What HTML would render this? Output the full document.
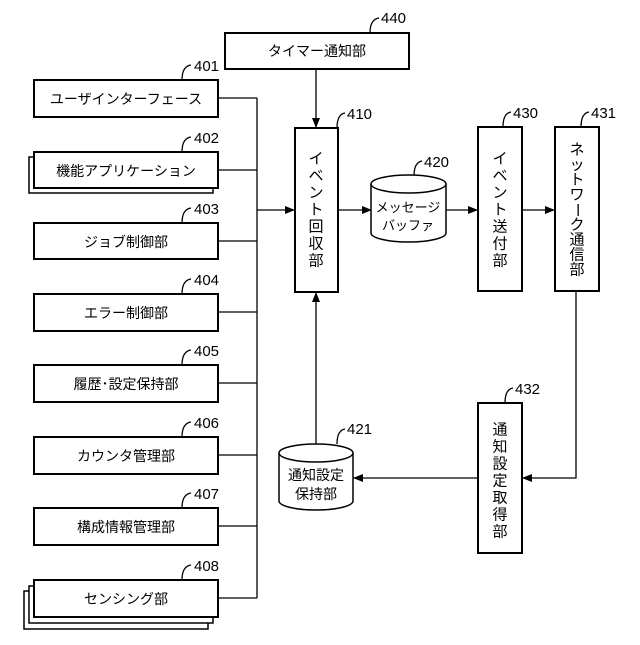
<!DOCTYPE html>
<html><head><meta charset="utf-8"><style>
html,body{margin:0;padding:0;background:#fff}
text{font-family:"Liberation Sans","Noto Sans CJK JP",sans-serif;fill:#000}
</style></head><body>
<svg width="640" height="640" viewBox="0 0 640 640" xmlns="http://www.w3.org/2000/svg">
<defs><marker id="a" markerWidth="10" markerHeight="10" refX="9" refY="5" orient="auto" markerUnits="userSpaceOnUse"><path d="M0,1 L10,5 L0,9 Z" fill="#000"/></marker></defs>
<g fill="#fff" stroke="#000" stroke-width="2">
<rect x="225" y="33" width="184" height="36"/>
<rect x="34" y="80" width="184" height="37"/>
<rect x="29" y="157" width="184" height="36" stroke-width="1.5"/>
<rect x="34" y="152" width="184" height="36"/>
<rect x="34" y="223" width="184" height="36"/>
<rect x="34" y="294" width="184" height="37"/>
<rect x="34" y="365" width="184" height="37"/>
<rect x="34" y="437" width="184" height="37"/>
<rect x="34" y="508" width="184" height="37"/>
<rect x="24" y="591" width="184" height="38" stroke-width="1.5"/>
<rect x="29" y="586" width="184" height="37" stroke-width="1.5"/>
<rect x="34" y="580" width="184" height="37"/>
<rect x="295" y="128" width="43" height="164"/>
<rect x="478" y="127" width="44" height="164"/>
<rect x="555" y="127" width="44" height="164"/>
<rect x="478" y="403" width="44" height="150"/>
</g>
<g fill="none" stroke="#000" stroke-width="1.3">
<path d="M218,98 H257 M218,170 H257 M218,241 H257 M218,312 H257 M218,383 H257 M218,455 H257 M218,526 H257 M218,598 H257 M257,98 V598"/>
<path d="M257,210 H294" marker-end="url(#a)"/>
<path d="M316,69 V127" marker-end="url(#a)"/>
<path d="M338,210 H371" marker-end="url(#a)"/>
<path d="M446,210 H477" marker-end="url(#a)"/>
<path d="M522,210 H554" marker-end="url(#a)"/>
<path d="M576,291 V478 H523" marker-end="url(#a)"/>
<path d="M478,478 H354" marker-end="url(#a)"/>
<path d="M316,444 V293" marker-end="url(#a)"/>
<path d="M370,33 C370,25 372,19 379,18"/>
<path d="M182,80 C182,72 184,66 191,65"/>
<path d="M182,152 C182,144 184,138 191,137"/>
<path d="M182,223 C182,215 184,209 191,208"/>
<path d="M182,294 C182,286 184,280 191,279"/>
<path d="M182,365 C182,357 184,351 191,350"/>
<path d="M182,437 C182,429 184,423 191,422"/>
<path d="M182,508 C182,500 184,494 191,493"/>
<path d="M182,580 C182,572 184,566 191,565"/>
<path d="M337,128 C337,120 339,114 345,113"/>
<path d="M414,176 C414,168 416,162 422,161"/>
<path d="M503,127 C503,119 505,113 511,112"/>
<path d="M581,127 C581,119 583,113 589,112"/>
<path d="M505,403 C505,395 507,389 513,388"/>
<path d="M337,444 C337,436 339,430 345,429"/>
</g>
<g fill="#fff" stroke="#000" stroke-width="1.5">
<path d="M371,184 V233 A37.5,9 0 0 0 446,233 V184"/>
<ellipse cx="408.5" cy="184" rx="37.5" ry="9"/>
<path d="M279,453 V501 A37,9 0 0 0 353,501 V453"/>
<ellipse cx="316" cy="453" rx="37" ry="9"/>
</g>
<g font-size="14" text-anchor="middle">
<text x="317" y="56">タイマー通知部</text>
<text x="126" y="104">ユーザインターフェース</text>
<text x="126" y="176">機能アプリケーション</text>
<text x="126" y="247">ジョブ制御部</text>
<text x="126" y="318">エラー制御部</text>
<text x="126" y="389">履歴･設定保持部</text>
<text x="126" y="461">カウンタ管理部</text>
<text x="126" y="532">構成情報管理部</text>
<text x="126" y="604">センシング部</text>
<text x="408" y="212" font-size="13">メッセージ</text>
<text x="408" y="230" font-size="13">バッファ</text>
<text x="316" y="480">通知設定</text>
<text x="316" y="499">保持部</text>
</g>
<g font-size="15" text-anchor="middle" dominant-baseline="central">
<text x="316" y="159">イ</text><text x="316" y="176">ベ</text><text x="316" y="193">ン</text><text x="316" y="210">ト</text><text x="316" y="227">回</text><text x="316" y="244">収</text><text x="316" y="261">部</text>
<text x="500" y="159">イ</text><text x="500" y="176">ベ</text><text x="500" y="193">ン</text><text x="500" y="210">ト</text><text x="500" y="227">送</text><text x="500" y="244">付</text><text x="500" y="261">部</text>
<text x="577" y="150">ネ</text><text x="577" y="165">ッ</text><text x="577" y="180">ト</text><text x="577" y="195">ワ</text><text x="577" y="210" transform="rotate(90 577 210)">ー</text><text x="577" y="225" >ク</text><text x="577" y="240">通</text><text x="577" y="255">信</text><text x="577" y="270">部</text>
<text x="500" y="430">通</text><text x="500" y="447">知</text><text x="500" y="464">設</text><text x="500" y="481">定</text><text x="500" y="498">取</text><text x="500" y="515">得</text><text x="500" y="532">部</text>
</g>
<g font-size="15">
<text x="381" y="23">440</text>
<text x="194" y="71">401</text>
<text x="194" y="143">402</text>
<text x="194" y="214">403</text>
<text x="194" y="285">404</text>
<text x="194" y="356">405</text>
<text x="194" y="428">406</text>
<text x="194" y="499">407</text>
<text x="194" y="571">408</text>
<text x="347" y="119">410</text>
<text x="424" y="167">420</text>
<text x="513" y="118">430</text>
<text x="591" y="118">431</text>
<text x="515" y="394">432</text>
<text x="347" y="434">421</text>
</g>
</svg>
</body></html>
